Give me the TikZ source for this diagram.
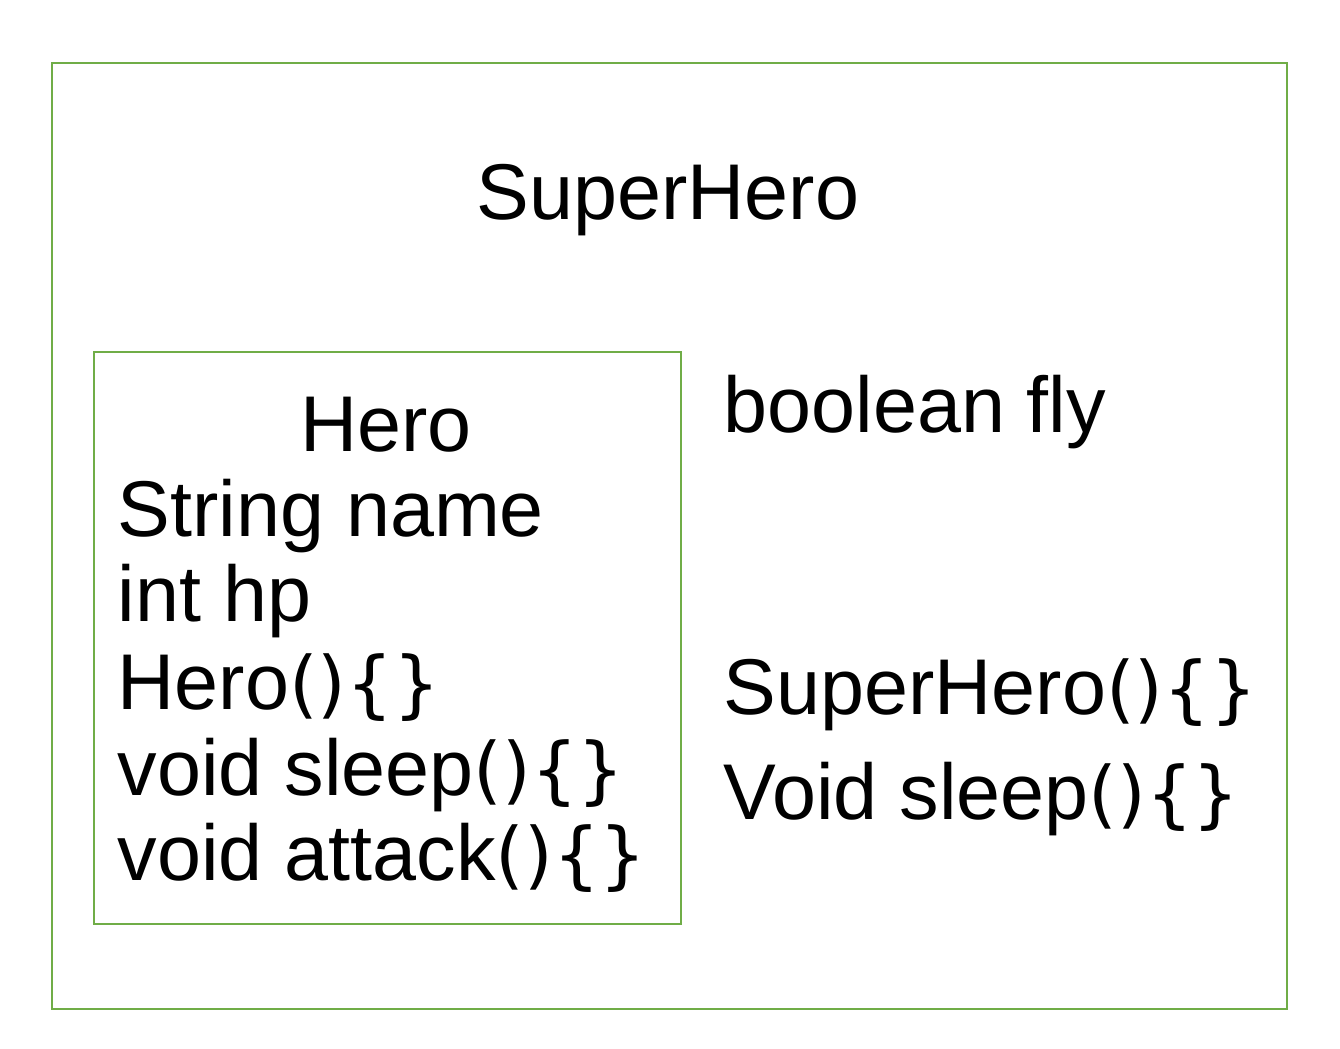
\documentclass[tikz,border=0pt]{standalone}
\usepackage{fontspec}
\setmainfont{Liberation Sans}
\newfontfamily\bracefont[Scale=0.93]{DejaVu Sans}
\usetikzlibrary{positioning}
\definecolor{boxgreen}{HTML}{70AD47}
\newcommand{\emptybody}{{\bracefont()\{\}}}

\begin{document}
\begin{tikzpicture}[font=\fontsize{22.5}{27}\selectfont]

    % --- Styles ---
    \tikzstyle{classbox} = [draw=boxgreen, line width=0.7pt]
    \tikzstyle{member} = [anchor=base west, inner sep=0pt]
    \tikzstyle{title} = [anchor=base, inner sep=0pt]

    \useasboundingbox (0,0) rectangle (13.4,10.48);

    % --- Boîtes ---
    \draw[classbox] (0.52,0.39) rectangle (12.87,9.85);
    \draw[classbox] (0.94,1.24) rectangle (6.81,6.96);

    % --- SuperHero ---
    \node[title] (super) at (6.68,8.28) {SuperHero};
    \node[member] (fly) at (7.23,6.15) {boolean fly};
    \node[member] (superctor) at (7.23,3.33) {SuperHero\emptybody};
    \node[member] (supersleep) at (7.23,2.28) {Void sleep\emptybody};

    % --- Hero ---
    \node[title] (hero) at (3.86,5.96) {Hero};
    \node[member] (name) at (1.17,5.11) {String name};
    \node[member] (hp) at (1.17,4.26) {int hp};
    \node[member] (heroctor) at (1.17,3.38) {Hero\emptybody};
    \node[member] (sleep) at (1.17,2.53) {void sleep\emptybody};
    \node[member] (attack) at (1.17,1.68) {void attack\emptybody};

\end{tikzpicture}
\end{document}
